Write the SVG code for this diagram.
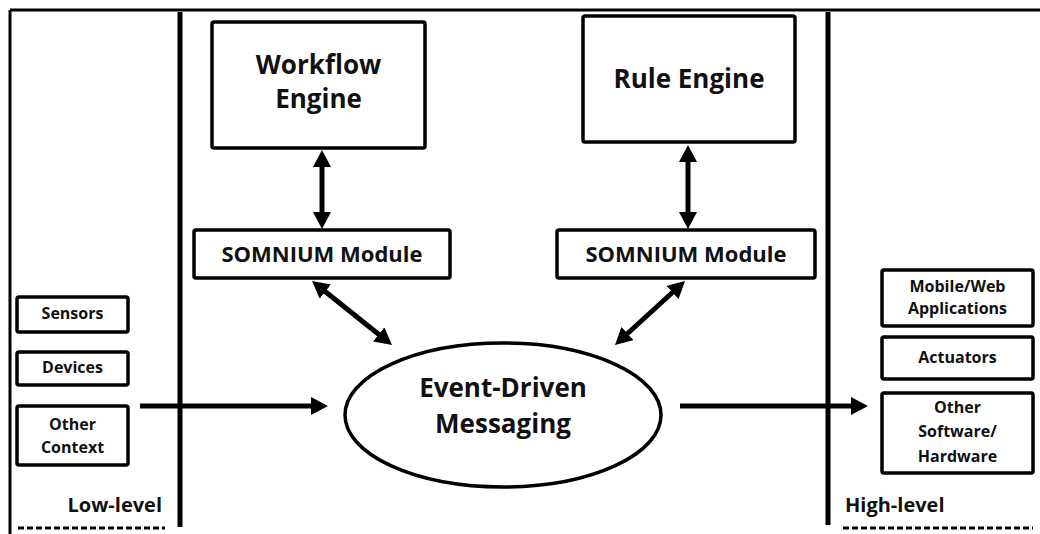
<svg xmlns="http://www.w3.org/2000/svg" width="1040" height="534" viewBox="0 0 1040 534">
<style>
.box{fill:#fff;stroke:#000;stroke-width:3.5}
.t{font-family:"Open Sans","Liberation Sans",sans-serif;font-weight:700;fill:#111;text-anchor:middle}
.big{font-size:26px}
.mid{font-size:22px}
.sm{font-size:16px}
.lvl{font-size:20px}
.conn{stroke:#000;stroke-width:5;fill:none}
.div{stroke:#000;stroke-width:5}
.dot{stroke:#000;stroke-width:3;stroke-dasharray:6 3}
</style>
<defs>
<marker id="ah" markerUnits="userSpaceOnUse" markerWidth="17" markerHeight="18" refX="11" refY="9" orient="auto-start-reverse">
<path d="M0,0 L17,9 L0,18 z" fill="#000"/>
</marker>
</defs>
<rect width="1040" height="534" fill="#fff"/>
<g id="frame">
<line x1="10" y1="10" x2="1040" y2="10" stroke="#000" stroke-width="3"/>
<line x1="10" y1="10" x2="10" y2="534" stroke="#000" stroke-width="3"/>
<line class="div" x1="180" y1="12" x2="180" y2="527"/>
<line class="div" x1="828" y1="12" x2="828" y2="525"/>
<line class="dot" x1="18" y1="528" x2="165" y2="528"/>
<line class="dot" x1="843" y1="528" x2="1033" y2="528"/>
<text class="t lvl" x="162" y="512" style="text-anchor:end">Low-level</text>
<text class="t lvl" x="845" y="512" style="text-anchor:start">High-level</text>
</g>
<g id="connectors">
<line class="conn" x1="322" y1="156" x2="322" y2="223" marker-start="url(#ah)" marker-end="url(#ah)"/>
<line class="conn" x1="688" y1="151" x2="688" y2="223" marker-start="url(#ah)" marker-end="url(#ah)"/>
<line class="conn" x1="316.7" y1="284.7" x2="387.3" y2="341.3" marker-start="url(#ah)" marker-end="url(#ah)"/>
<line class="conn" x1="680.6" y1="285" x2="619.4" y2="341" marker-start="url(#ah)" marker-end="url(#ah)"/>
<line class="conn" x1="140" y1="406" x2="322" y2="406" marker-end="url(#ah)"/>
<line class="conn" x1="680" y1="406" x2="862" y2="406" marker-end="url(#ah)"/>
</g>
<g id="workflow-engine">
<rect class="box" x="212" y="22" width="213" height="126" rx="2"/>
<text class="t big" x="318.5" y="74">Workflow</text>
<text class="t big" x="318.5" y="108">Engine</text>
</g>
<g id="rule-engine">
<rect class="box" x="583" y="16" width="212" height="126" rx="2"/>
<text class="t big" x="689" y="88">Rule Engine</text>
</g>
<g id="somnium-left">
<rect class="box" x="194" y="230" width="256" height="48" rx="2"/>
<text class="t mid" x="322" y="262">SOMNIUM Module</text>
</g>
<g id="somnium-right">
<rect class="box" x="557" y="230" width="258" height="48" rx="2"/>
<text class="t mid" x="686" y="262">SOMNIUM Module</text>
</g>
<g id="event-messaging">
<ellipse cx="503" cy="415" rx="158" ry="72" fill="#fff" stroke="#000" stroke-width="3.5"/>
<text class="t big" x="503" y="397">Event-Driven</text>
<text class="t big" x="503" y="433">Messaging</text>
</g>
<g id="sensors">
<rect class="box" x="17" y="297" width="111" height="35" rx="2"/>
<text class="t sm" x="72.5" y="319">Sensors</text>
</g>
<g id="devices">
<rect class="box" x="17" y="352" width="111" height="33" rx="2"/>
<text class="t sm" x="72.5" y="373">Devices</text>
</g>
<g id="other-context">
<rect class="box" x="17" y="406" width="111" height="59" rx="2"/>
<text class="t sm" x="72.5" y="430">Other</text>
<text class="t sm" x="72.5" y="453">Context</text>
</g>
<g id="mobile-web">
<rect class="box" x="882" y="270" width="151" height="56" rx="2"/>
<text class="t sm" x="957.5" y="292">Mobile/Web</text>
<text class="t sm" x="957.5" y="314">Applications</text>
</g>
<g id="actuators">
<rect class="box" x="882" y="337" width="151" height="42" rx="2"/>
<text class="t sm" x="957.5" y="363">Actuators</text>
</g>
<g id="other-software">
<rect class="box" x="882" y="393" width="151" height="80" rx="2"/>
<text class="t sm" x="957.5" y="413">Other</text>
<text class="t sm" x="957.5" y="437">Software/</text>
<text class="t sm" x="957.5" y="462">Hardware</text>
</g>
</svg>
